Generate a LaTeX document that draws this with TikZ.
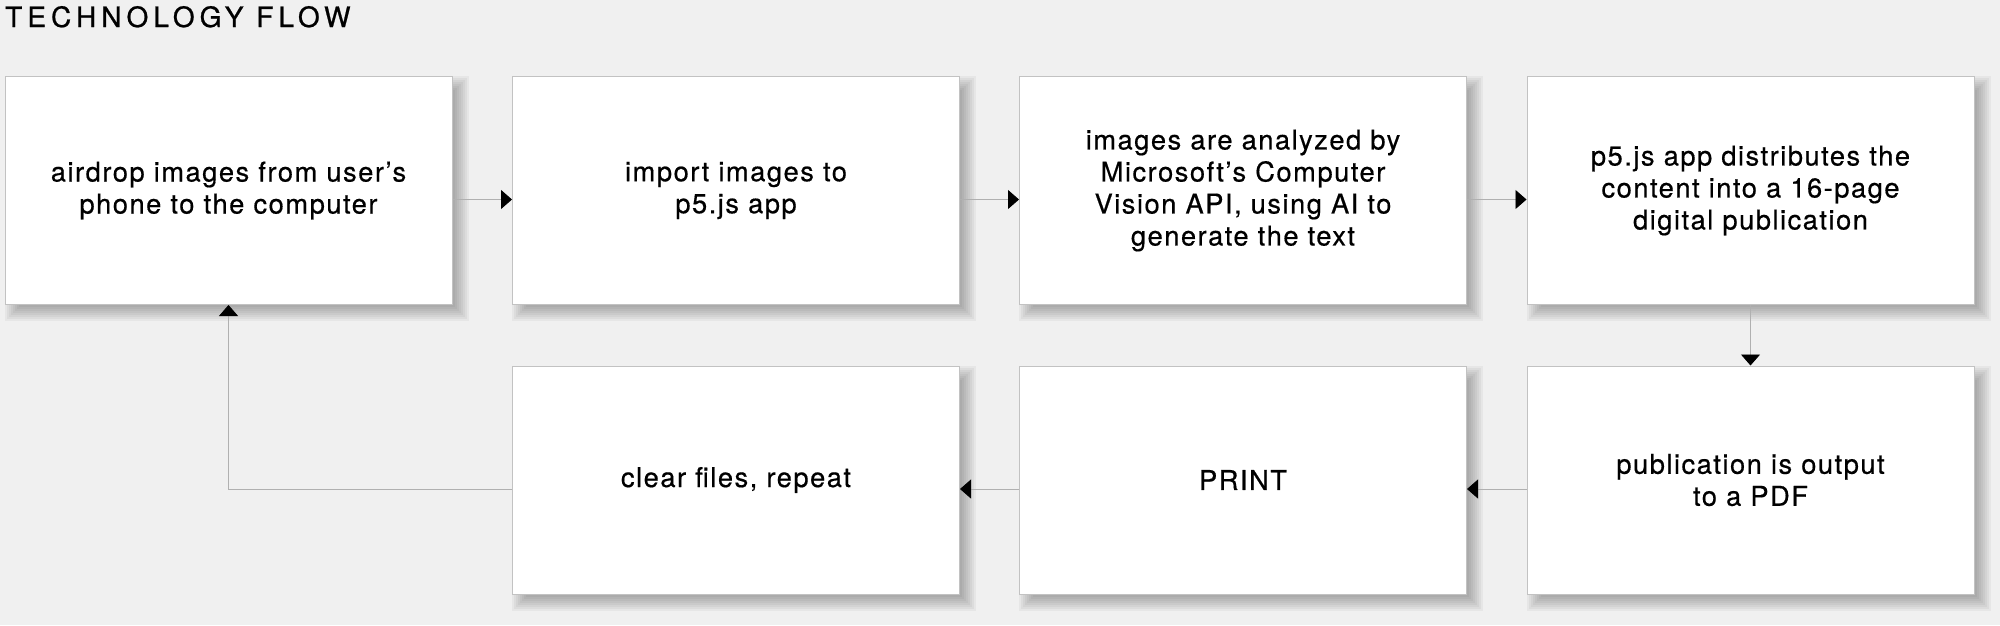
\documentclass[tikz,border=0pt]{standalone}
\usepackage{fontspec}
\setmainfont{TeX Gyre Heros}
\usetikzlibrary{arrows.meta,backgrounds}
\definecolor{bgcol}{HTML}{F0F0F0}
\definecolor{boxline}{HTML}{C2C2C2}
\definecolor{flowline}{HTML}{B0B0B0}
\begin{document}
\begin{tikzpicture}[x=1pt,y=-1pt,
  stepbox/.style={rectangle, draw=boxline, line width=1pt, fill=white,
    minimum width=447pt, minimum height=228pt, inner sep=0pt, align=center,
    font=\fontsize{27.3}{32}\selectfont\addfontfeature{LetterSpace=5.5,FakeBold=0.5}},
  shadowlayer/.style={fill=black, opacity=0.04},
  flow/.style={draw=flowline, line width=0.9pt,
    -{Triangle[length=11pt,width=19pt,color=black]}}]
\useasboundingbox (0,0) rectangle (2000,625);
\node[anchor=base west, inner sep=0pt, font=\fontsize{28}{32}\selectfont\addfontfeature{LetterSpace=18,FakeBold=0.8}] (title) at (5,27) {TECHNOLOGY FLOW};
\node[stepbox] (b1) at (228.5,190.5) {airdrop images from user’s\\phone to the computer};
\node[stepbox] (b2) at (736,190.5) {import images to\\p5.js app};
\node[stepbox] (b3) at (1243,190.5) {images are analyzed by\\Microsoft’s Computer\\Vision API, using AI to\\generate the text};
\node[stepbox] (b4) at (1750.5,190.5) {p5.js app distributes the\\content into a 16-page\\digital publication};
\node[stepbox] (b5) at (736,480) {clear files, repeat};
\node[stepbox] (b6) at (1243,480) {PRINT};
\node[stepbox] (b7) at (1750.5,480) {publication is output\\to a PDF};
\begin{pgfonlayer}{background}
\fill[bgcol] (0,0) rectangle (2000,625);
\foreach \n in {b1,b2,b3,b4,b5,b6,b7}{
  \foreach \e in {-8,-6,...,8}{
    \fill[shadowlayer] ([shift={({8-\e},{8-\e})}]\n.north west) rectangle ([shift={({8+\e},{8+\e})}]\n.south east);
  }
}
\end{pgfonlayer}
\draw[flow] ([yshift=-9pt]b1.east) -- ([yshift=-9pt]b2.west);
\draw[flow] ([yshift=-9pt]b2.east) -- ([yshift=-9pt]b3.west);
\draw[flow] ([yshift=-9pt]b3.east) -- ([yshift=-9pt]b4.west);
\draw[flow] (b4.south) -- (b7.north);
\draw[flow] ([yshift=-9pt]b7.west) -- ([yshift=-9pt]b6.east);
\draw[flow] ([yshift=-9pt]b6.west) -- ([yshift=-9pt]b5.east);
\draw[flow] ([yshift=-9pt]b5.west) -| (b1.south);
\end{tikzpicture}
\end{document}
